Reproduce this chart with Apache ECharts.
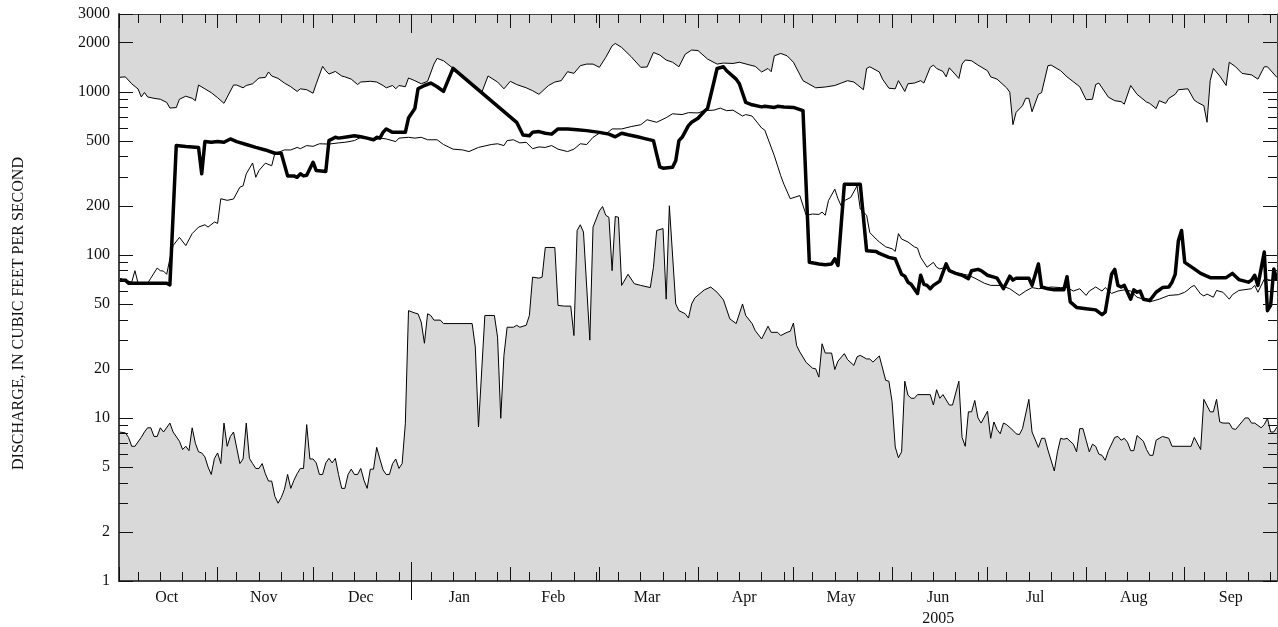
<!DOCTYPE html>
<html>
<head>
<meta charset="utf-8">
<title>Daily discharge, water year 2005</title>
<script src="https://cdn.jsdelivr.net/npm/echarts@6/dist/echarts.min.js"></script>
<style>
  html, body { margin: 0; padding: 0; background: #fff; }
  #chart { width: 1278px; height: 627px; }
</style>
</head>
<body>
<div id="chart"></div>
<script>
// x = day of the water year: 0 = Oct 1 2004, 364 = Sep 30 2005
const monthNames = ["Oct", "Nov", "Dec", "Jan", "Feb", "Mar", "Apr", "May", "Jun", "Jul", "Aug", "Sep"];
const monthStart = [0, 31, 61, 92, 123, 151, 182, 212, 243, 273, 304, 335];
const monthDays = [31, 30, 31, 31, 28, 31, 30, 31, 30, 31, 31, 30];
const weekDays = [6, 13, 20, 27];
const yearStart = 92;
const yearLabel = "2005";
const yLabels = [1, 2, 5, 10, 20, 50, 100, 200, 500, 1000, 2000, 3000];
const yMinor = [3, 4, 6, 7, 8, 9, 30, 40, 60, 70, 80, 90, 300, 400, 600, 700, 800, 900];
const yTitle = "DISCHARGE, IN CUBIC FEET PER SECOND";

// maximum daily mean for period of record
const maxFlow = [
  [0,1225],[2,1235],[4,1120],[6,1040],[7,930],[8,990],[9,930],[11,912],[13,900],[15,860],
  [16,795],[18,800],[19,900],[21,940],[23,912],[24,882],[25,1100],[27,1043],[29,988],[31,920],
  [33,850],[34,927],[36,1100],[37,1100],[39,1058],[40,1093],[42,1120],[44,1215],[46,1225],[47,1323],
  [48,1250],[50,1208],[52,1131],[54,1074],[56,1005],[57,1043],[59,1030],[61,980],[62,1120],[64,1432],
  [65,1346],[66,1285],[68,1333],[70,1250],[71,1235],[73,1196],[75,1108],[76,1148],[79,1160],[81,1148],
  [83,1093],[84,1058],[86,1093],[87,1043],[88,1093],[90,1074],[91,1215],[93,1170],[95,1120],[97,1160],
  [99,1479],[100,1603],[102,1550],[105,1393],[108,1241],[112,1065],[114,988],[116,1250],[119,1148],[121,1043],
  [123,1160],[125,1108],[128,1058],[130,1016],[132,965],[135,1093],[137,1148],[139,1170],[141,1328],[143,1297],
  [145,1446],[147,1479],[149,1479],[151,1413],[153,1626],[155,1914],[156,1978],[158,1871],[161,1641],[164,1413],
  [166,1420],[168,1742],[170,1680],[172,1566],[174,1518],[176,1424],[178,1702],[180,1803],[182,1790],[185,1588],
  [188,1479],[190,1500],[193,1492],[195,1518],[198,1465],[200,1432],[202,1323],[204,1390],[205,1328],[206,1663],
  [208,1719],[210,1663],[212,1518],[215,1170],[219,1058],[222,1070],[225,1093],[227,1131],[229,1170],[231,1148],
  [234,1030],[235,1390],[236,1424],[239,1323],[240,1196],[242,1052],[244,1043],[245,1170],[247,1005],[248,1120],
  [250,1131],[252,1170],[253,1131],[255,1413],[256,1458],[257,1390],[259,1333],[260,1235],[261,1403],[264,1208],
  [265,1479],[266,1566],[268,1550],[270,1458],[273,1346],[274,1235],[276,1196],[279,1058],[280,995],[281,629],
  [282,748],[284,822],[285,912],[286,912],[287,755],[289,965],[290,988],[292,1446],[293,1458],[296,1346],
  [298,1235],[302,1074],[304,894],[306,900],[307,1108],[308,1131],[311,927],[313,882],[315,870],[316,840],
  [318,1093],[320,965],[323,865],[324,849],[326,789],[327,882],[329,849],[330,912],[332,965],[333,1030],
  [336,1043],[338,888],[339,861],[341,822],[342,650],[343,1170],[344,1390],[346,1250],[348,1093],[349,1518],
  [351,1424],[353,1297],[356,1270],[358,1196],[360,1424],[361,1424],[364,1225]
];

// minimum daily mean for period of record
const minFlow = [
  [0,8.2],[2,8.1],[3,7.6],[4,6.7],[5,6.7],[7,7.6],[8,8.2],[9,8.7],[10,8.7],[11,7.7],
  [12,7.7],[13,8.7],[14,8.2],[16,9.3],[17,8.2],[19,7.2],[20,6.4],[21,6.7],[22,6.3],[23,8.7],
  [24,7.0],[25,6.2],[26,6.1],[27,5.77],[28,5.0],[29,4.5],[30,5.65],[31,6.1],[32,5.25],[33,9.3],
  [34,6.7],[35,7.7],[36,8.2],[38,5.25],[39,5.6],[40,9.3],[41,5.65],[42,5.25],[43,4.9],[44,4.9],
  [45,5.25],[46,4.55],[47,4.1],[48,4.1],[49,3.3],[50,3.0],[51,3.25],[52,3.65],[53,4.5],[54,3.7],
  [55,4.15],[56,4.55],[57,4.9],[58,4.9],[59,9.1],[60,5.6],[61,5.6],[62,5.3],[63,4.5],[64,4.5],
  [65,5.3],[66,5.65],[67,5.3],[68,5.65],[69,4.5],[70,3.7],[71,3.7],[72,4.5],[73,4.85],[74,4.5],
  [75,4.5],[76,4.9],[77,4.15],[78,3.7],[79,4.85],[80,4.85],[81,6.6],[82,5.6],[83,4.8],[84,4.5],
  [85,4.5],[86,5.25],[87,5.6],[88,4.9],[89,5.25],[90,9.2],[91,45.5],[93,44],[94,43.5],[95,38.7],
  [96,28.7],[97,43.5],[98,42.5],[99,39.8],[101,39.8],[102,37.9],[111,37.9],[112,27.2],[113,8.8],[115,42.5],
  [118,42.5],[119,31.3],[120,9.95],[121,24.2],[122,36],[124,36],[125,37],[126,36],[128,37],[129,42.5],
  [130,73],[132,72],[133,73],[134,111],[137,111],[138,49],[140,48.5],[142,48.5],[143,32],[144,141],
  [145,153],[146,138],[148,30],[149,148],[151,186],[152,198],[153,175],[154,170],[155,80],[156,172],
  [157,170],[158,65],[160,76],[162,66.5],[164,65],[167,63],[168,84],[169,141],[171,145],[172,53.5],
  [173,200],[175,50],[176,45.5],[178,43.5],[179,41],[180,50],[181,54.5],[184,61],[186,63.5],[188,59],
  [190,53],[192,40.5],[194,37.9],[196,50],[197,42.5],[199,37.9],[200,34.3],[202,30.5],[204,36.5],[205,33.5],
  [207,33.5],[208,32],[210,33.5],[211,34],[212,38.2],[213,27.8],[214,25.4],[216,21.9],[218,20.2],[219,20],
  [220,17.8],[221,28.5],[222,25],[224,25],[225,19.8],[226,22.3],[228,24.8],[229,22.8],[231,21],[232,23.7],
  [233,24.2],[235,23],[236,23],[237,22],[239,24],[241,17],[242,16.8],[243,12.6],[244,6.63],[245,5.7],
  [246,6.2],[247,16.8],[248,13.8],[249,13.2],[250,13.2],[251,13.9],[255,13.9],[256,12],[257,14.9],[258,13.2],
  [259,13.9],[261,12],[262,12],[264,16.8],[265,7.6],[266,6.7],[267,10.9],[268,10.9],[269,12.8],[270,10],
  [271,9.3],[273,11.0],[274,7.5],[275,9.45],[276,8.5],[277,8.0],[278,9.3],[279,9.1],[281,8.4],[282,8.0],
  [283,7.9],[284,8.6],[286,13],[287,8.2],[289,6.6],[290,7.5],[291,7.5],[292,6.35],[294,4.73],[295,6.2],
  [296,7.5],[297,7.4],[298,7.5],[300,6.9],[301,6.2],[302,8.6],[303,8.6],[304,7.3],[305,6.2],[306,6.9],
  [307,6.7],[308,6.0],[309,5.9],[310,5.5],[311,6.3],[313,7.6],[314,7.7],[315,7.3],[316,7.5],[317,7.1],
  [318,6.3],[319,6.3],[320,7.8],[322,7.2],[323,6.4],[324,5.9],[325,5.9],[326,7.3],[328,7.7],[330,7.5],
  [331,6.7],[337,6.7],[338,7.6],[340,6.4],[341,13],[343,10.9],[344,10.9],[345,13],[346,9.45],[347,9.3],
  [349,9.3],[350,8.6],[351,8.5],[354,10],[355,10],[356,9.3],[357,9.3],[359,8.7],[360,9.1],[361,9.95],
  [362,8.2],[363,8.2],[364,8.8]
];

// median daily mean for period of record
const medianFlow = [
  [0,72],[2,70],[4,68],[5,80],[6,67],[9,67],[10,72],[12,83],[13,80],[14,79.5],
  [15,76],[16,95],[17,114],[19,128],[21,114],[23,135],[25,148],[27,153],[28,148],[30,159],[31,156],
  [32,221],[34,216],[36,220],[38,260],[39,265],[40,314],[42,366],[43,299],[44,329],[46,365],
  [48,352],[49,420],[50,425],[52,440],[54,440],[56,456],[57,448],[59,468],[61,463],[63,480],
  [66,478],[69,486],[71,490],[74,502],[76,526],[78,514],[80,502],[82,520],[84,514],[87,495],
  [88,520],[91,526],[93,520],[95,526],[97,508],[100,508],[102,475],[105,445],[108,440],[110,430],
  [113,456],[117,475],[119,480],[121,468],[122,502],[124,508],[126,486],[128,490],[130,448],[132,459],
  [134,456],[136,468],[138,445],[141,430],[143,445],[145,480],[147,475],[149,526],[151,557],[153,550],
  [155,592],[158,592],[161,612],[164,628],[166,674],[169,650],[172,694],[174,733],[177,725],[179,745],
  [182,742],[184,766],[187,772],[189,794],[191,766],[193,772],[196,710],[197,725],[199,710],[202,600],
  [203,582],[206,405],[208,306],[209,271],[211,221],[214,231],[216,175],[218,178],[220,177],
  [221,183],[222,175],[223,215],[225,253],[226,221],[227,200],[228,215],[230,225],[232,265],[233,191],
  [235,175],[236,137],[238,125],[239,120],[241,112],[243,109],[244,105],[245,135],[246,125],[248,120],
  [250,112],[251,110],[252,96.5],[254,84],[256,90],[257,84],[258,82],[260,84],[262,78],[264,77],
  [267,75],[269,72],[272,67],[274,65],[277,65],[280,62],[283,56.4],[285,60],[287,63],[289,62],[293,63.5],
  [296,63],[298,63],[300,60],[302,62],[304,56.4],[305,60],[307,63.5],[309,60],[310,63],[312,58],
  [314,60],[316,61],[318,60],[320,55],[322,53.5],[324,51.5],[327,53.5],[330,56.4],[333,57],
  [335,59],[336,61],[337,63.5],[338,65],[340,57.5],[341,56],[342,57.5],[344,55],[345,60.5],[347,59],
  [349,53.5],[350,57],[352,60.5],[356,62],[357,65],[358,59],[360,71],[362,70],[364,71]
];

// daily mean discharge, water year 2005
const dailyFlow = [
  [0,70],[2,70],[3,67],[15,67],[16,65.5],[18,468],[21,462],[25,456],[26,314],[27,495],
  [29,490],[31,495],[33,490],[35,514],[37,495],[40,475],[43,456],[46,440],[49,420],[51,420],
  [53,305],[55,305],[56,299],[57,314],[58,305],[59,308],[61,370],[62,329],[65,325],[66,502],
  [68,526],[69,520],[72,530],[74,537],[76,530],[78,520],[80,508],[81,526],[82,520],[83,564],
  [84,592],[86,564],[90,564],[91,690],[93,790],[94,1043],[96,1093],[98,1131],[100,1074],[102,1005],
  [105,1393],[125,650],[127,543],[129,538],[130,564],[132,570],[134,557],[136,550],[138,592],[141,592],
  [144,585],[147,578],[151,564],[154,550],[156,530],[158,557],[160,545],[163,530],[165,518],[168,502],
  [169,415],[170,346],[171,340],[174,345],[175,378],[176,502],[177,526],[179,620],[180,650],[182,688],
  [184,760],[185,790],[187,1148],[188,1390],[190,1424],[191,1346],[194,1196],[195,1120],[197,861],[199,832],
  [202,808],[203,815],[206,802],[207,815],[209,808],[212,802],[215,766],[217,90],[220,88],[222,87],
  [224,88],[225,94.6],[226,86],[228,271],[233,271],[235,106],[238,105],[239,102],[242,96.5],
  [244,94.6],[246,76],[247,74],[248,68],[249,66],[251,58],[252,75],[253,66],[254,65],[255,62],
  [256,65],[258,69],[260,88],[261,80],[263,77],[265,75],[267,71.5],[268,80],[270,81.5],
  [271,80],[273,75],[275,73],[276,72],[278,62],[280,74],[281,70],[282,72],[284,72],[286,72],
  [287,65],[289,88],[290,63.5],[292,62],[294,61],[297,61],[298,73.5],[299,51.5],[301,47.6],[304,46.8],
  [307,46],[309,43],[310,44.5],[312,76],[313,81.5],[314,65],[315,63.5],[316,65],[318,53.5],[319,61],
  [320,59],[321,60],[322,53.5],[324,52.5],[326,59],[328,63],[330,63.5],[331,68],[332,76],[333,122],
  [334,141],[335,90],[338,82],[340,77],[343,72.5],[348,72.5],[350,77],[352,70.5],
  [355,68],[356,70],[357,75],[358,65],[360,104],[361,45.5],[362,49],[363,82],[364,70]
];

const FONT = '"Liberation Serif", "Times New Roman", serif';
const INK = "#111";
const FILL = "#d9d9d9";

const weekTicks = [];
monthStart.forEach(s => weekDays.forEach(w => weekTicks.push(s + w)));
const monthMid = monthStart.map((s, i) => s + (monthDays[i] - 1) / 2);

function pick(list, keys, v) {
  const i = keys.findIndex(k => Math.abs(k - v) < 0.01);
  return i < 0 ? "" : list[i];
}

function tick(values, length, inside) {
  return { show: true, customValues: values, inside: inside, length: length,
           lineStyle: { color: INK, width: 1 } };
}

function xAxis(position, parts) {
  return {
    type: "value", min: 0, max: 364, position: position, z: 10,
    axisLine: parts.line ? { show: true, onZero: false, lineStyle: parts.line }
                         : { show: false, onZero: false },
    axisTick: parts.tick || { show: false },
    axisLabel: parts.label || { show: false },
    splitLine: { show: false }
  };
}

function yAxis(position, parts) {
  return {
    type: "log", logBase: 10, min: 1, max: 3000, position: position, z: 10,
    axisLine: parts.line ? { show: true, onZero: false, lineStyle: parts.line }
                         : { show: false, onZero: false },
    axisTick: parts.tick || { show: false },
    axisLabel: parts.label || { show: false },
    splitLine: { show: false }
  };
}

const chart = echarts.init(document.getElementById("chart"));

chart.setOption({
  animation: false,
  backgroundColor: "#fff",
  grid: { left: 119, right: 1, top: 14, bottom: 46, show: true,
          backgroundColor: FILL, borderWidth: 0 },
  xAxis: [
    xAxis("bottom", {
      line: { color: "#444", width: 2 },
      tick: tick(weekTicks, 9, true),
      label: { show: true, customValues: monthMid, margin: 9,
               fontFamily: FONT, fontSize: 16, color: INK,
               formatter: v => pick(monthNames, monthMid, v) }
    }),
    xAxis("bottom", { tick: tick(monthStart, 14, true) }),
    xAxis("bottom", { tick: tick([yearStart], 19, true) }),
    xAxis("bottom", { tick: tick([yearStart], 19, false) }),
    xAxis("bottom", {
      label: { show: true, customValues: [monthMid[8]], margin: 30,
               fontFamily: FONT, fontSize: 16, color: INK,
               formatter: () => yearLabel }
    }),
    xAxis("top", { line: { color: "#444", width: 1 }, tick: tick(weekTicks, 9, true) }),
    xAxis("top", { tick: tick(monthStart, 14, true) }),
    xAxis("top", { tick: tick([yearStart], 19, true) })
  ],
  yAxis: [
    yAxis("left", {
      line: { color: "#444", width: 2 },
      tick: tick(yLabels, 14, true),
      label: { show: true, customValues: yLabels, margin: 9,
               fontFamily: FONT, fontSize: 16, color: INK,
               formatter: v => String(Math.round(v)) }
    }),
    yAxis("left", { tick: tick(yMinor, 9, true) }),
    yAxis("right", { line: { color: "#444", width: 1 }, tick: tick(yLabels, 14, true) }),
    yAxis("right", { tick: tick(yMinor, 9, true) })
  ],
  graphic: [{
    type: "text", x: 19, y: 313.5, rotation: Math.PI / 2,
    style: { text: yTitle, font: "16px " + FONT, fill: INK,
             align: "center", verticalAlign: "middle",
             textAlign: "center", textVerticalAlign: "middle" }
  }],
  series: [
    {
      name: "Maximum", type: "line", data: maxFlow, symbol: "none", z: 1,
      lineStyle: { color: "#000", width: 1 },
      areaStyle: { color: "#fff", opacity: 1, origin: "start" }
    },
    {
      name: "Minimum", type: "line", data: minFlow, symbol: "none", z: 2,
      lineStyle: { color: "#000", width: 1 },
      areaStyle: { color: FILL, opacity: 1, origin: "start" }
    },
    {
      name: "Median", type: "line", data: medianFlow, symbol: "none", z: 3,
      lineStyle: { color: "#000", width: 1 }
    },
    {
      name: "2005", type: "line", data: dailyFlow, symbol: "none", z: 4,
      lineStyle: { color: "#000", width: 3.5, join: "round" }
    }
  ]
});

window.addEventListener("resize", () => chart.resize());
</script>
</body>
</html>
